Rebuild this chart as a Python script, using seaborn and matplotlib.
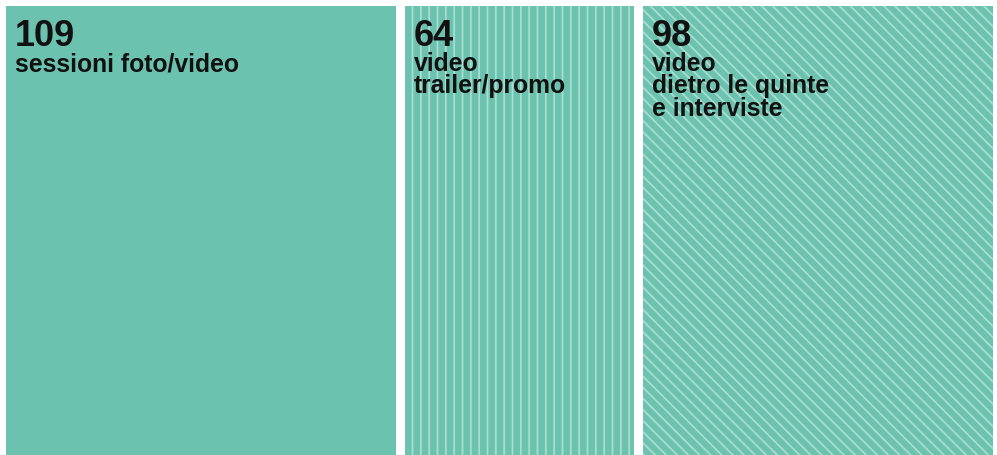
import numpy as np
import matplotlib.pyplot as plt
import seaborn as sns

# valori dei tre blocchi (larghezza proporzionale al numero)
values = [109, 64, 98]
numbers = ["109", "64", "98"]
labels = ["sessioni foto/video", "video\ntrailer/promo", "video\ndietro le quinte\ne interviste"]
hatches = ["", "||", "\\\\\\"]

teal = "#6bc2ae"
light = "#aadccf"

sns.set_theme(style="white")
plt.rcParams['font.family'] = ['Liberation Sans', 'DejaVu Sans']
plt.rcParams['hatch.linewidth'] = 1.3

fig = plt.figure(figsize=(9.97, 4.56), dpi=100)
ax = fig.add_axes([6 / 997, 0, 987 / 997, 449 / 456])

gap = 2.5
widths = np.array(values, dtype=float)
lefts = np.concatenate([[0], np.cumsum(widths + gap)[:-1]])

for left, w, h, num, lab in zip(lefts, widths, hatches, numbers, labels):
    ax.bar(left, 1, width=w, align='edge', color=teal, edgecolor=light,
           linewidth=0, hatch=h)
    ax.annotate(num, xy=(left, 1), xytext=(9, -12), textcoords='offset pixels',
                ha='left', va='top', fontsize=26, fontweight='bold', color='#111111')
    ax.annotate(lab, xy=(left, 1), xytext=(9, -45), textcoords='offset pixels',
                ha='left', va='top', fontsize=17.8, fontweight='bold', color='#111111',
                linespacing=0.92)

ax.set_xlim(0, widths.sum() + gap * (len(values) - 1))
ax.set_ylim(0, 1)
ax.axis('off')

fig.savefig('out.png', dpi=100)
